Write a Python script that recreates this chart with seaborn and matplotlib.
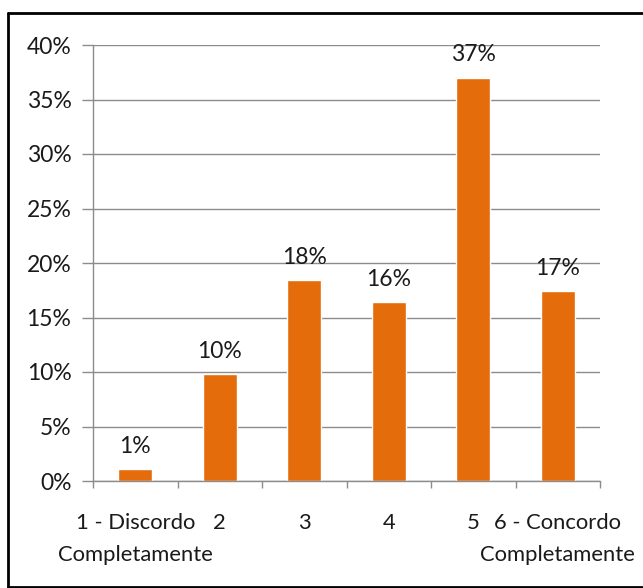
import matplotlib
matplotlib.use("Agg")
import matplotlib.pyplot as plt
import matplotlib.ticker as mticker
from matplotlib.lines import Line2D
import seaborn as sns
import pandas as pd

categories = ["1 - Discordo\nCompletamente", "2", "3", "4", "5", "6 - Concordo\nCompletamente"]
values = [0.011, 0.098, 0.184, 0.164, 0.370, 0.174]
y_ticks = [0.0, 0.05, 0.10, 0.15, 0.20, 0.25, 0.30, 0.35, 0.40]

sns.set_theme(style="white")
plt.rcParams['font.family'] = ['Lato', 'DejaVu Sans']

BAR = "#E46C0A"
GRID = "#8C8C8C"
TXT = "#1A1A1A"
FS = 16.5
FSX = 15.8

df = pd.DataFrame({"cat": categories, "val": values})

fig = plt.figure(figsize=(6.43, 5.88), dpi=100)
ax = fig.add_axes([93/643, 1-481/588, (600-93)/643, (481-45)/588])

sns.barplot(data=df, x="cat", y="val", color=BAR, saturation=1, width=0.4, ax=ax)

ax.set_ylim(0, 0.40)
ax.set_xlim(-0.5, len(categories) - 0.5)
ax.set_yticks(y_ticks)
ax.yaxis.set_major_formatter(mticker.FuncFormatter(lambda v, p: f"{v:.0%}"))
ax.grid(axis="y", color=GRID, linewidth=1.0)
ax.grid(axis="x", visible=False)
ax.set_axisbelow(True)
for s in ["top", "right"]:
    ax.spines[s].set_visible(False)
for s in ["left", "bottom"]:
    ax.spines[s].set_color(GRID)
    ax.spines[s].set_linewidth(1.0)

ax.set_xlabel("")
ax.set_ylabel("")
ax.tick_params(axis="y", which="major", length=8, width=1, color=GRID, pad=7.5,
               labelsize=FS, labelcolor=TXT, direction="out", left=True)
ax.tick_params(axis="x", which="major", length=0, pad=23, labelsize=FSX, labelcolor=TXT)
for lab in ax.get_xticklabels():
    lab.set_linespacing(1.75)
ax.set_xticks([i - 0.5 for i in range(len(categories) + 1)], minor=True)
ax.tick_params(axis="x", which="minor", length=5, width=1, color=GRID, direction="out", bottom=True)

for c in ax.containers:
    ax.bar_label(c, labels=[f"{v:.0%}" for v in values], padding=9, fontsize=FS, color=TXT)

# outer chart border
bx0, by0, bx1, by1 = 8/643, 1-587/588, 1.02, 1-13/588
fig.add_artist(Line2D([bx0, bx1], [by1, by1], color="black", linewidth=2.0, transform=fig.transFigure))
fig.add_artist(Line2D([bx0, bx0], [by0, by1], color="black", linewidth=2.0, transform=fig.transFigure))
fig.add_artist(Line2D([bx0, bx1], [by0, by0], color="black", linewidth=2.0, transform=fig.transFigure))

fig.savefig("out.png", dpi=100)
